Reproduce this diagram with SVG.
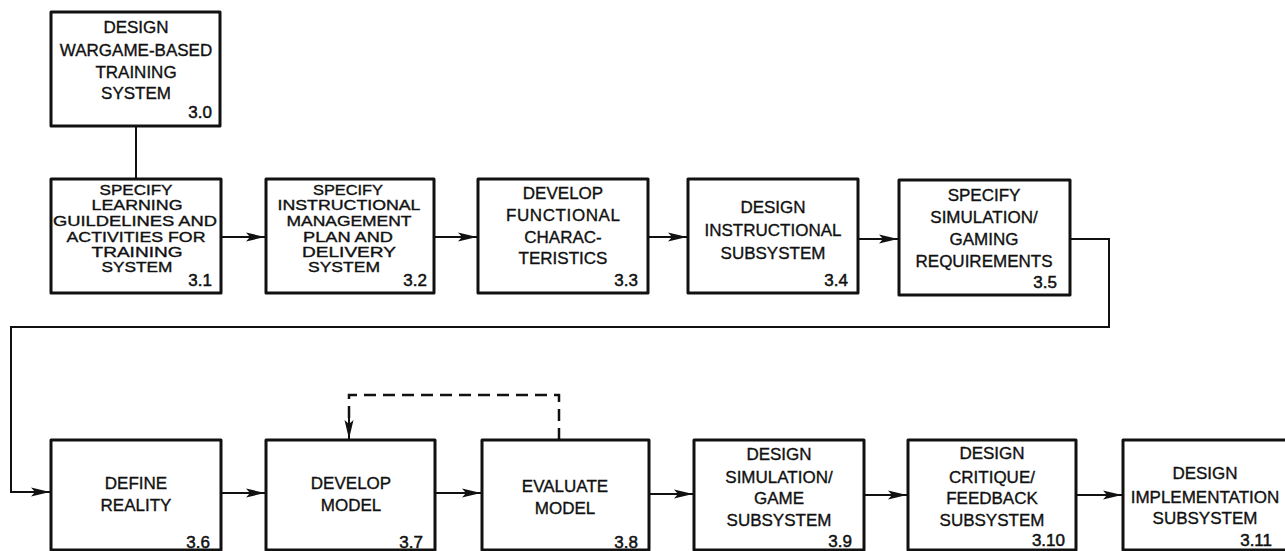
<svg xmlns="http://www.w3.org/2000/svg" width="1285" height="551" viewBox="0 0 1285 551">
<defs>
<marker id="arr" markerWidth="20" markerHeight="12" refX="19" refY="6" orient="auto" markerUnits="userSpaceOnUse">
<path d="M0,1.5 L19,6 L0,10.5 L4,6 Z" fill="#111"/>
</marker>
<style>
.box{fill:#fff;stroke:#111;stroke-width:3;stroke-linejoin:round}
.t{font-family:"Liberation Sans",Arial,sans-serif;font-size:17px;fill:#111;stroke:#111;stroke-width:0.35;text-anchor:middle}
.c{font-family:"Liberation Sans",Arial,sans-serif;font-size:14px;fill:#111;stroke:#111;stroke-width:0.35;text-anchor:middle}
.n{font-family:"Liberation Sans",Arial,sans-serif;font-size:17px;fill:#111;stroke:#111;stroke-width:0.5;text-anchor:end}
.ln{fill:none;stroke:#111;stroke-width:2}
.dash{fill:none;stroke:#111;stroke-width:2.5;stroke-dasharray:12,7}
</style>
</defs>
<rect width="1285" height="551" fill="#fff"/>

<g id="connectors">
<line class="ln" x1="136" y1="126" x2="136" y2="179"/>
<line class="ln" x1="221" y1="237" x2="265" y2="237" marker-end="url(#arr)"/>
<line class="ln" x1="434" y1="237" x2="477" y2="237" marker-end="url(#arr)"/>
<line class="ln" x1="648" y1="237" x2="687" y2="237" marker-end="url(#arr)"/>
<line class="ln" x1="858" y1="239" x2="898" y2="239" marker-end="url(#arr)"/>
<path class="ln" d="M1070,239 H1109 V327 H11 V492 H50" marker-end="url(#arr)"/>
<line class="ln" x1="221" y1="493" x2="265" y2="493" marker-end="url(#arr)"/>
<line class="ln" x1="435" y1="493" x2="481" y2="493" marker-end="url(#arr)"/>
<line class="ln" x1="649" y1="494" x2="693" y2="494" marker-end="url(#arr)"/>
<line class="ln" x1="864" y1="495" x2="907" y2="495" marker-end="url(#arr)"/>
<line class="ln" x1="1076" y1="495" x2="1122" y2="495" marker-end="url(#arr)"/>
<path class="dash" d="M559,440 V395 H349 V420"/>
<line class="ln" x1="349" y1="418" x2="349" y2="439" marker-end="url(#arr)"/>
</g>

<g id="n3_0">
<rect class="box" x="51" y="12" width="169" height="114"/>
<text class="t" x="136" y="33">DESIGN</text>
<text class="t" x="136" y="56">WARGAME-BASED</text>
<text class="t" x="136" y="78">TRAINING</text>
<text class="t" x="136" y="99">SYSTEM</text>
<text class="n" x="212" y="118">3.0</text>
</g>

<g id="n3_1">
<rect class="box" x="51" y="179" width="170" height="114"/>
<text class="c" x="136" y="195" textLength="73" lengthAdjust="spacingAndGlyphs">SPECIFY</text>
<text class="c" x="137" y="210" textLength="91" lengthAdjust="spacingAndGlyphs">LEARNING</text>
<text class="c" x="135" y="226" textLength="164" lengthAdjust="spacingAndGlyphs">GUILDELINES AND</text>
<text class="c" x="136" y="242" textLength="139" lengthAdjust="spacingAndGlyphs">ACTIVITIES FOR</text>
<text class="c" x="137" y="257" textLength="91" lengthAdjust="spacingAndGlyphs">TRAINING</text>
<text class="c" x="137" y="272" textLength="71" lengthAdjust="spacingAndGlyphs">SYSTEM</text>
<text class="n" x="212" y="286">3.1</text>
</g>

<g id="n3_2">
<rect class="box" x="266" y="179" width="168" height="114"/>
<text class="c" x="348" y="195" textLength="70" lengthAdjust="spacingAndGlyphs">SPECIFY</text>
<text class="c" x="349" y="210" textLength="143" lengthAdjust="spacingAndGlyphs">INSTRUCTIONAL</text>
<text class="c" x="349" y="226" textLength="125" lengthAdjust="spacingAndGlyphs">MANAGEMENT</text>
<text class="c" x="348" y="242" textLength="90" lengthAdjust="spacingAndGlyphs">PLAN AND</text>
<text class="c" x="349" y="257" textLength="94" lengthAdjust="spacingAndGlyphs">DELIVERY</text>
<text class="c" x="344" y="272" textLength="72" lengthAdjust="spacingAndGlyphs">SYSTEM</text>
<text class="n" x="427" y="286">3.2</text>
</g>

<g id="n3_3">
<rect class="box" x="478" y="179" width="170" height="114"/>
<text class="t" x="563" y="199">DEVELOP</text>
<text class="t" x="563" y="221" textLength="114" lengthAdjust="spacing">FUNCTIONAL</text>
<text class="t" x="563" y="243">CHARAC-</text>
<text class="t" x="563" y="264">TERISTICS</text>
<text class="n" x="638" y="286">3.3</text>
</g>

<g id="n3_4">
<rect class="box" x="688" y="179" width="170" height="114"/>
<text class="t" x="773" y="213">DESIGN</text>
<text class="t" x="773" y="236">INSTRUCTIONAL</text>
<text class="t" x="773" y="259">SUBSYSTEM</text>
<text class="n" x="848" y="286">3.4</text>
</g>

<g id="n3_5">
<rect class="box" x="899" y="180" width="171" height="115"/>
<text class="t" x="984" y="201">SPECIFY</text>
<text class="t" x="984" y="223">SIMULATION/</text>
<text class="t" x="984" y="245">GAMING</text>
<text class="t" x="984" y="267">REQUIREMENTS</text>
<text class="n" x="1057" y="288">3.5</text>
</g>

<g id="n3_6">
<rect class="box" x="51" y="440" width="170" height="110"/>
<text class="t" x="136" y="489">DEFINE</text>
<text class="t" x="136" y="511">REALITY</text>
<text class="n" x="210" y="548">3.6</text>
</g>

<g id="n3_7">
<rect class="box" x="266" y="440" width="169" height="110"/>
<text class="t" x="351" y="489">DEVELOP</text>
<text class="t" x="351" y="511">MODEL</text>
<text class="n" x="423" y="548">3.7</text>
</g>

<g id="n3_8">
<rect class="box" x="482" y="440" width="167" height="110"/>
<text class="t" x="565" y="492">EVALUATE</text>
<text class="t" x="565" y="514">MODEL</text>
<text class="n" x="638" y="548">3.8</text>
</g>

<g id="n3_9">
<rect class="box" x="694" y="440" width="170" height="110"/>
<text class="t" x="779" y="460">DESIGN</text>
<text class="t" x="779" y="483">SIMULATION/</text>
<text class="t" x="779" y="504">GAME</text>
<text class="t" x="779" y="526">SUBSYSTEM</text>
<text class="n" x="852" y="547">3.9</text>
</g>

<g id="n3_10">
<rect class="box" x="908" y="440" width="168" height="110"/>
<text class="t" x="992" y="459">DESIGN</text>
<text class="t" x="992" y="483">CRITIQUE/</text>
<text class="t" x="992" y="504">FEEDBACK</text>
<text class="t" x="992" y="526">SUBSYSTEM</text>
<text class="n" x="1065" y="546">3.10</text>
</g>

<g id="n3_11">
<rect class="box" x="1123" y="440" width="200" height="110"/>
<text class="t" x="1205" y="479">DESIGN</text>
<text class="t" x="1205" y="503">IMPLEMENTATION</text>
<text class="t" x="1205" y="524">SUBSYSTEM</text>
<text class="n" x="1272" y="546">3.11</text>
</g>
</svg>
